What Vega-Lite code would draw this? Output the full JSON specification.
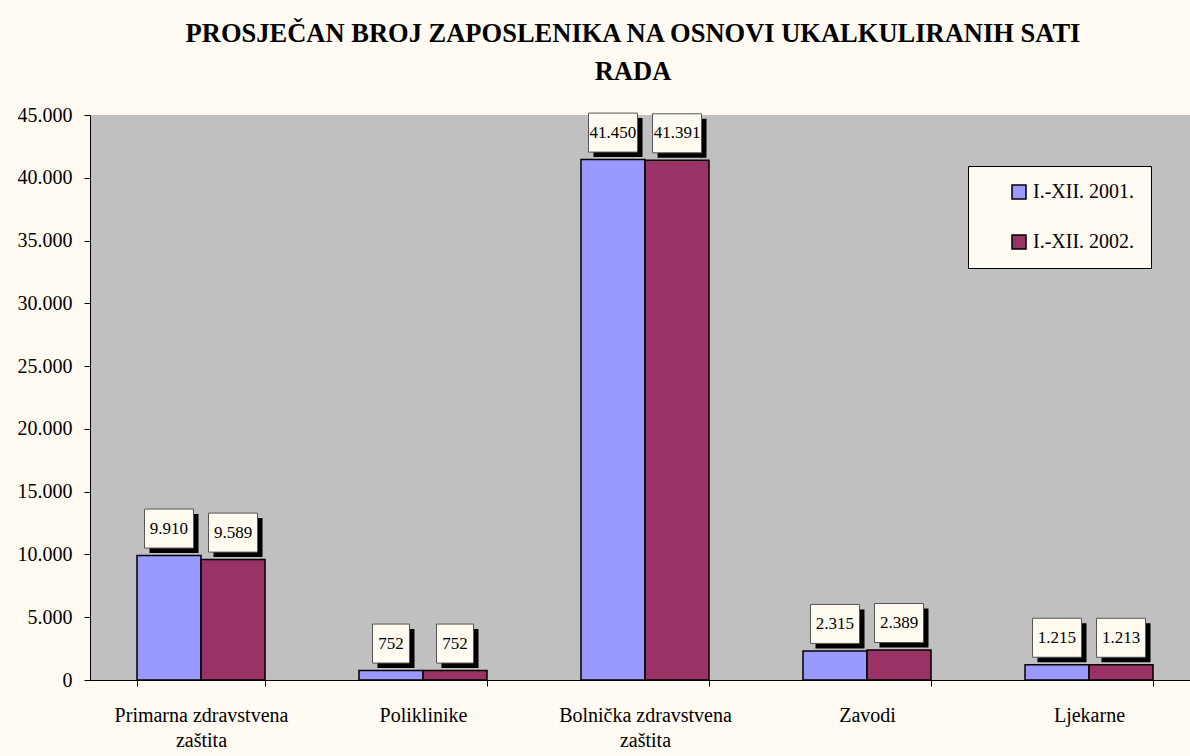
{
  "$schema": "https://vega.github.io/schema/vega-lite/v6.json",
  "autosize": {"type": "none"},
  "width": 1100,
  "height": 565,
  "padding": {"left": 90, "top": 115, "right": 0, "bottom": 76},
  "background": "#FFFBF2",
  "title": {
    "text": ["PROSJEČAN BROJ ZAPOSLENIKA NA OSNOVI UKALKULIRANIH SATI", "RADA"],
    "font": "Liberation Serif",
    "fontSize": 26.5,
    "fontWeight": "bold",
    "color": "#000000",
    "anchor": "middle",
    "dx": -7,
    "lineHeight": 38,
    "offset": 20
  },
  "config": {
    "locale": {"number": {"decimal": ",", "thousands": ".", "grouping": [3], "currency": ["", ""]}},
    "view": {"fill": "#C0C0C0", "stroke": null},
    "font": "Liberation Serif"
  },
  "data": {
    "values": [
      {"cat": "Primarna zdravstvena zaštita", "series": "I.-XII. 2001.", "v": 9910},
      {"cat": "Primarna zdravstvena zaštita", "series": "I.-XII. 2002.", "v": 9589},
      {"cat": "Poliklinike", "series": "I.-XII. 2001.", "v": 752},
      {"cat": "Poliklinike", "series": "I.-XII. 2002.", "v": 752},
      {"cat": "Bolnička zdravstvena zaštita", "series": "I.-XII. 2001.", "v": 41450},
      {"cat": "Bolnička zdravstvena zaštita", "series": "I.-XII. 2002.", "v": 41391},
      {"cat": "Zavodi", "series": "I.-XII. 2001.", "v": 2315},
      {"cat": "Zavodi", "series": "I.-XII. 2002.", "v": 2389},
      {"cat": "Ljekarne", "series": "I.-XII. 2001.", "v": 1215},
      {"cat": "Ljekarne", "series": "I.-XII. 2002.", "v": 1213}
    ]
  },
  "encoding": {
    "x": {
      "field": "cat",
      "type": "nominal",
      "sort": null,
      "scale": {"range": [0, 1110], "paddingInner": 0.4234, "paddingOuter": 0.2117},
      "axis": {
        "title": null,
        "labelAngle": 0,
        "labelFont": "Liberation Serif",
        "labelFontSize": 20,
        "labelColor": "#000000",
        "labelLineHeight": 25,
        "labelPadding": 19,
        "labelBaseline": "top",
        "tickBand": "extent",
        "tickSize": 6,
        "tickColor": "#000000",
        "domainColor": "#000000",
        "labelExpr": "datum.value == 'Primarna zdravstvena zaštita' ? ['Primarna zdravstvena', 'zaštita'] : datum.value == 'Bolnička zdravstvena zaštita' ? ['Bolnička zdravstvena', 'zaštita'] : datum.value"
      }
    },
    "xOffset": {"field": "series", "type": "nominal", "scale": {"paddingInner": 0, "paddingOuter": 0}},
    "y": {
      "field": "v",
      "type": "quantitative",
      "scale": {"domain": [0, 45000], "nice": false},
      "axis": {
        "title": null,
        "grid": false,
        "values": [0, 5000, 10000, 15000, 20000, 25000, 30000, 35000, 40000, 45000],
        "format": ",d",
        "labelFont": "Liberation Serif",
        "labelFontSize": 20,
        "labelColor": "#000000",
        "labelPadding": 12,
        "tickSize": 6,
        "tickColor": "#000000",
        "domainColor": "#000000"
      }
    }
  },
  "layer": [
    {
      "mark": {"type": "bar", "stroke": "#000000", "strokeWidth": 1.5},
      "encoding": {
        "color": {
          "field": "series",
          "type": "nominal",
          "scale": {"range": ["#9999FF", "#993366"]},
          "legend": {
            "title": null,
            "orient": "none",
            "legendX": 878,
            "legendY": 51,
            "direction": "vertical",
            "fillColor": "#FFFBF2",
            "strokeColor": "#000000",
            "padding": 16,
            "symbolOffset": 25,
            "symbolType": "square",
            "symbolSize": 196,
            "symbolStrokeColor": "#000000",
            "symbolStrokeWidth": 1.5,
            "labelFont": "Liberation Serif",
            "labelFontSize": 20,
            "labelColor": "#000000",
            "labelOffset": 4,
            "rowPadding": 30,
            "labelExpr": "datum.label + '\u00a0\u00a0\u00a0\u00a0\u00a0'"
          }
        }
      }
    },
    {
      "mark": {"type": "point", "filled": true, "opacity": 1, "fill": "#000000", "strokeWidth": 0, "yOffset": -27, "size": 2401},
      "encoding": {
        "shape": {
          "condition": {"test": "datum.v < 1000", "value": "M-0.551,-0.592H0.959V1.0H-0.551Z"},
          "value": "M-0.796,-0.592H1.204V1.0H-0.796Z"
        }
      }
    },
    {
      "mark": {"type": "point", "filled": true, "opacity": 1, "fill": "#FFFBF0", "stroke": "#555555", "strokeWidth": 1, "yOffset": -27, "size": 2401},
      "encoding": {
        "shape": {
          "condition": {"test": "datum.v < 1000", "value": "M-0.755,-0.796H0.755V0.796H-0.755Z"},
          "value": "M-1,-0.796H1V0.796H-1Z"
        }
      }
    },
    {
      "mark": {"type": "text", "dy": -27, "baseline": "middle", "align": "center", "font": "Liberation Serif", "fontSize": 17, "color": "#000000"},
      "encoding": {
        "text": {"field": "v", "type": "quantitative", "format": ",d"}
      }
    }
  ]
}
